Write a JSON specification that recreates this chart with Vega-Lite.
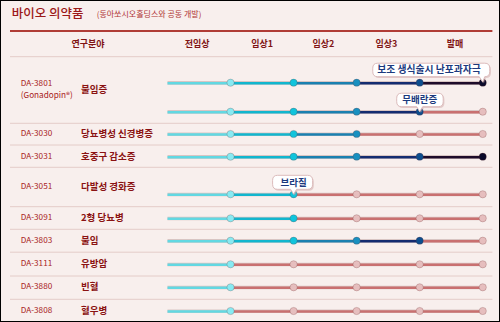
{
  "$schema": "https://vega.github.io/schema/vega-lite/v6.json",
  "width": 500,
  "height": 322,
  "autosize": {"type": "fit", "contains": "padding"},
  "padding": 0,
  "background": "#f8efed",
  "config": {"view": {"stroke": "#000000", "strokeWidth": 2}},
  "datasets": {
    "seps": [{"y": 56.7}, {"y": 123.3}, {"y": 145}, {"y": 167.3}, {"y": 206.7}, {"y": 229.3}, {"y": 252.2}, {"y": 276}, {"y": 299.3}],
    "steps": [
      {"line": "DA-3801 a", "y": 82.7, "from": 0, "stage": 1, "status": "s1"},
      {"line": "DA-3801 a", "y": 82.7, "from": 1, "stage": 2, "status": "s2"},
      {"line": "DA-3801 a", "y": 82.7, "from": 2, "stage": 3, "status": "s3"},
      {"line": "DA-3801 a", "y": 82.7, "from": 3, "stage": 4, "status": "s4"},
      {"line": "DA-3801 a", "y": 82.7, "from": 4, "stage": 5, "status": "s5"},
      {"line": "DA-3801 b", "y": 111.7, "from": 0, "stage": 1, "status": "s1"},
      {"line": "DA-3801 b", "y": 111.7, "from": 1, "stage": 2, "status": "s2"},
      {"line": "DA-3801 b", "y": 111.7, "from": 2, "stage": 3, "status": "s3"},
      {"line": "DA-3801 b", "y": 111.7, "from": 3, "stage": 4, "status": "s4"},
      {"line": "DA-3801 b", "y": 111.7, "from": 4, "stage": 5, "status": "todo"},
      {"line": "DA-3030", "y": 134, "from": 0, "stage": 1, "status": "s1"},
      {"line": "DA-3030", "y": 134, "from": 1, "stage": 2, "status": "s2"},
      {"line": "DA-3030", "y": 134, "from": 2, "stage": 3, "status": "s3"},
      {"line": "DA-3030", "y": 134, "from": 3, "stage": 4, "status": "todo"},
      {"line": "DA-3030", "y": 134, "from": 4, "stage": 5, "status": "todo"},
      {"line": "DA-3031", "y": 156.7, "from": 0, "stage": 1, "status": "s1"},
      {"line": "DA-3031", "y": 156.7, "from": 1, "stage": 2, "status": "s2"},
      {"line": "DA-3031", "y": 156.7, "from": 2, "stage": 3, "status": "s3"},
      {"line": "DA-3031", "y": 156.7, "from": 3, "stage": 4, "status": "s4"},
      {"line": "DA-3031", "y": 156.7, "from": 4, "stage": 5, "status": "s5"},
      {"line": "DA-3051", "y": 194.3, "from": 0, "stage": 1, "status": "s1"},
      {"line": "DA-3051", "y": 194.3, "from": 1, "stage": 2, "status": "s2"},
      {"line": "DA-3051", "y": 194.3, "from": 2, "stage": 3, "status": "todo"},
      {"line": "DA-3051", "y": 194.3, "from": 3, "stage": 4, "status": "todo"},
      {"line": "DA-3051", "y": 194.3, "from": 4, "stage": 5, "status": "todo"},
      {"line": "DA-3091", "y": 218.3, "from": 0, "stage": 1, "status": "s1"},
      {"line": "DA-3091", "y": 218.3, "from": 1, "stage": 2, "status": "s2"},
      {"line": "DA-3091", "y": 218.3, "from": 2, "stage": 3, "status": "todo"},
      {"line": "DA-3091", "y": 218.3, "from": 3, "stage": 4, "status": "todo"},
      {"line": "DA-3091", "y": 218.3, "from": 4, "stage": 5, "status": "todo"},
      {"line": "DA-3803", "y": 240.7, "from": 0, "stage": 1, "status": "s1"},
      {"line": "DA-3803", "y": 240.7, "from": 1, "stage": 2, "status": "s2"},
      {"line": "DA-3803", "y": 240.7, "from": 2, "stage": 3, "status": "s3"},
      {"line": "DA-3803", "y": 240.7, "from": 3, "stage": 4, "status": "s4"},
      {"line": "DA-3803", "y": 240.7, "from": 4, "stage": 5, "status": "todo"},
      {"line": "DA-3111", "y": 264.3, "from": 0, "stage": 1, "status": "s1"},
      {"line": "DA-3111", "y": 264.3, "from": 1, "stage": 2, "status": "todo"},
      {"line": "DA-3111", "y": 264.3, "from": 2, "stage": 3, "status": "todo"},
      {"line": "DA-3111", "y": 264.3, "from": 3, "stage": 4, "status": "todo"},
      {"line": "DA-3111", "y": 264.3, "from": 4, "stage": 5, "status": "todo"},
      {"line": "DA-3880", "y": 287.3, "from": 0, "stage": 1, "status": "s1"},
      {"line": "DA-3880", "y": 287.3, "from": 1, "stage": 2, "status": "todo"},
      {"line": "DA-3880", "y": 287.3, "from": 2, "stage": 3, "status": "todo"},
      {"line": "DA-3880", "y": 287.3, "from": 3, "stage": 4, "status": "todo"},
      {"line": "DA-3880", "y": 287.3, "from": 4, "stage": 5, "status": "todo"},
      {"line": "DA-3808", "y": 311, "from": 0, "stage": 1, "status": "s1"},
      {"line": "DA-3808", "y": 311, "from": 1, "stage": 2, "status": "todo"},
      {"line": "DA-3808", "y": 311, "from": 2, "stage": 3, "status": "todo"},
      {"line": "DA-3808", "y": 311, "from": 3, "stage": 4, "status": "todo"},
      {"line": "DA-3808", "y": 311, "from": 4, "stage": 5, "status": "todo"}
    ],
    "bubbles": [
      {"label": "보조 생식술시 난포과자극", "stage": 5, "y": 82.7},
      {"label": "무배란증", "stage": 4, "y": 111.7},
      {"label": "브라질", "stage": 2, "y": 194.3}
    ],
    "texts": [
      {"kind": "title", "text": "바이오 의약품", "x": -2.471, "y": 13.5},
      {"kind": "subtitle", "text": "(동아쏘시오홀딩스와 공동 개발)", "x": -1.123, "y": 14.5},
      {"kind": "head", "text": "연구분야", "x": -1.261, "y": 44},
      {"kind": "head", "text": "전임상", "x": 0.47, "y": 44},
      {"kind": "head", "text": "임상1", "x": 1.5, "y": 44},
      {"kind": "head", "text": "임상2", "x": 2.474, "y": 44},
      {"kind": "head", "text": "임상3", "x": 3.473, "y": 44},
      {"kind": "head", "text": "발매", "x": 4.56, "y": 44},
      {"kind": "code", "text": "DA-3801", "x": -2.328, "y": 84},
      {"kind": "code", "text": "(Gonadopin®)", "x": -2.328, "y": 96},
      {"kind": "code", "text": "DA-3030", "x": -2.328, "y": 134},
      {"kind": "code", "text": "DA-3031", "x": -2.328, "y": 156.7},
      {"kind": "code", "text": "DA-3051", "x": -2.328, "y": 186.7},
      {"kind": "code", "text": "DA-3091", "x": -2.328, "y": 218.3},
      {"kind": "code", "text": "DA-3803", "x": -2.328, "y": 240.7},
      {"kind": "code", "text": "DA-3111", "x": -2.328, "y": 264.3},
      {"kind": "code", "text": "DA-3880", "x": -2.328, "y": 287.3},
      {"kind": "code", "text": "DA-3808", "x": -2.328, "y": 311},
      {"kind": "name", "text": "불임증", "x": -1.372, "y": 90},
      {"kind": "name", "text": "당뇨병성 신경병증", "x": -1.372, "y": 134},
      {"kind": "name", "text": "호중구 감소증", "x": -1.372, "y": 156.7},
      {"kind": "name", "text": "다발성 경화증", "x": -1.372, "y": 186.7},
      {"kind": "name", "text": "2형 당뇨병", "x": -1.372, "y": 218.3},
      {"kind": "name", "text": "불임", "x": -1.372, "y": 240.7},
      {"kind": "name", "text": "유방암", "x": -1.372, "y": 264.3},
      {"kind": "name", "text": "빈혈", "x": -1.372, "y": 287.3},
      {"kind": "name", "text": "혈우병", "x": -1.372, "y": 311}
    ]
  },
  "layer": [
    {
      "data": {"name": "seps"},
      "mark": {"type": "rule", "stroke": "#e4ccc8", "strokeWidth": 1},
      "encoding": {
        "x": {"datum": -2.498, "type": "quantitative", "scale": {"domain": [-2.6566, 5.2736], "nice": false, "zero": false}, "axis": null},
        "x2": {"datum": 5.153},
        "y": {"field": "y", "type": "quantitative", "scale": {"domain": [0, 322], "nice": false, "zero": false, "reverse": true}, "axis": null}
      }
    },
    {
      "data": {"values": [{"y": 31}]},
      "mark": {"type": "rule", "stroke": "#b03c36", "strokeWidth": 2},
      "encoding": {
        "x": {"datum": -2.498, "type": "quantitative", "scale": {"domain": [-2.6566, 5.2736], "nice": false, "zero": false}, "axis": null},
        "x2": {"datum": 5.153},
        "y": {"field": "y", "type": "quantitative", "scale": {"domain": [0, 322], "nice": false, "zero": false, "reverse": true}, "axis": null}
      }
    },
    {
      "data": {"name": "steps"},
      "mark": {"type": "rule", "stroke": "#5a2020", "strokeOpacity": 0.2, "strokeWidth": 3.6, "yOffset": 0.2},
      "encoding": {
        "x": {"field": "from", "type": "quantitative", "scale": {"domain": [-2.6566, 5.2736], "nice": false, "zero": false}, "axis": null},
        "x2": {"field": "stage"},
        "y": {"field": "y", "type": "quantitative", "scale": {"domain": [0, 322], "nice": false, "zero": false, "reverse": true}, "axis": null}
      }
    },
    {
      "data": {"name": "steps"},
      "mark": {"type": "rule", "strokeWidth": 2.5, "yOffset": 0.5},
      "encoding": {
        "x": {"field": "from", "type": "quantitative", "scale": {"domain": [-2.6566, 5.2736], "nice": false, "zero": false}, "axis": null},
        "x2": {"field": "stage"},
        "y": {"field": "y", "type": "quantitative", "scale": {"domain": [0, 322], "nice": false, "zero": false, "reverse": true}, "axis": null},
        "stroke": {"field": "status", "type": "nominal", "scale": {"domain": ["s1", "s2", "s3", "s4", "s5", "todo"], "range": ["#62d8e2", "#12b6ce", "#1a80b0", "#142c70", "#1e0c2a", "#c97070"]}, "legend": null}
      }
    },
    {
      "data": {"name": "steps"},
      "mark": {"type": "point", "filled": true, "size": 52, "stroke": "#6a2a2a", "strokeOpacity": 0.3, "strokeWidth": 0.8, "opacity": 1},
      "encoding": {
        "x": {"field": "stage", "type": "quantitative", "scale": {"domain": [-2.6566, 5.2736], "nice": false, "zero": false}, "axis": null},
        "y": {"field": "y", "type": "quantitative", "scale": {"domain": [0, 322], "nice": false, "zero": false, "reverse": true}, "axis": null},
        "fill": {"field": "status", "type": "nominal", "scale": {"domain": ["s1", "s2", "s3", "s4", "s5", "todo"], "range": ["#88eaf2", "#10c4dc", "#1890c0", "#0c4e8e", "#0a0a2a", "#e6bebe"]}, "legend": null}
      }
    },
    {
      "data": {"name": "bubbles"},
      "mark": {"type": "point", "filled": true, "size": 40000, "fill": "#c9a0a0", "opacity": 0.45, "strokeWidth": 0, "xOffset": 1.2, "yOffset": 1.4},
      "encoding": {
        "x": {"field": "stage", "type": "quantitative", "scale": {"domain": [-2.6566, 5.2736], "nice": false, "zero": false}, "axis": null},
        "y": {"field": "y", "type": "quantitative", "scale": {"domain": [0, 322], "nice": false, "zero": false, "reverse": true}, "axis": null},
        "shape": {"field": "label", "type": "nominal", "legend": null, "scale": {"domain": ["보조 생식술시 난포과자극", "무배란증", "브라질"], "range": [
          "M-1.05,-0.195H0.02Q0.07,-0.195 0.07,-0.145V-0.11Q0.07,-0.06 0.02,-0.06L0,-0.005L-0.035,-0.06H-1.05Q-1.1,-0.06 -1.1,-0.11V-0.145Q-1.1,-0.195 -1.05,-0.195Z",
          "M-0.18,-0.185H0.185Q0.235,-0.185 0.235,-0.135V-0.1Q0.235,-0.05 0.185,-0.05H0.03L0,0L-0.03,-0.05H-0.18Q-0.23,-0.05 -0.23,-0.1V-0.135Q-0.23,-0.185 -0.18,-0.185Z",
          "M-0.16,-0.19H0.14Q0.19,-0.19 0.19,-0.14V-0.1Q0.19,-0.05 0.14,-0.05H0.03L0,0L-0.03,-0.05H-0.16Q-0.21,-0.05 -0.21,-0.1V-0.14Q-0.21,-0.19 -0.16,-0.19Z"
        ]}}
      }
    },
    {
      "data": {"name": "bubbles"},
      "mark": {"type": "point", "filled": true, "size": 40000, "fill": "#ffffff", "opacity": 1, "stroke": "#dcbcbc", "strokeWidth": 1},
      "encoding": {
        "x": {"field": "stage", "type": "quantitative", "scale": {"domain": [-2.6566, 5.2736], "nice": false, "zero": false}, "axis": null},
        "y": {"field": "y", "type": "quantitative", "scale": {"domain": [0, 322], "nice": false, "zero": false, "reverse": true}, "axis": null},
        "shape": {"field": "label", "type": "nominal", "legend": null, "scale": {"domain": ["보조 생식술시 난포과자극", "무배란증", "브라질"], "range": [
          "M-1.05,-0.195H0.02Q0.07,-0.195 0.07,-0.145V-0.11Q0.07,-0.06 0.02,-0.06L0,-0.005L-0.035,-0.06H-1.05Q-1.1,-0.06 -1.1,-0.11V-0.145Q-1.1,-0.195 -1.05,-0.195Z",
          "M-0.18,-0.185H0.185Q0.235,-0.185 0.235,-0.135V-0.1Q0.235,-0.05 0.185,-0.05H0.03L0,0L-0.03,-0.05H-0.18Q-0.23,-0.05 -0.23,-0.1V-0.135Q-0.23,-0.185 -0.18,-0.185Z",
          "M-0.16,-0.19H0.14Q0.19,-0.19 0.19,-0.14V-0.1Q0.19,-0.05 0.14,-0.05H0.03L0,0L-0.03,-0.05H-0.16Q-0.21,-0.05 -0.21,-0.1V-0.14Q-0.21,-0.19 -0.16,-0.19Z"
        ]}}
      }
    },
    {
      "data": {"name": "bubbles"},
      "transform": [{"filter": "datum.label == '보조 생식술시 난포과자극'"}],
      "mark": {"type": "text", "align": "right", "baseline": "middle", "dx": -2, "dy": -12.5, "font": "Noto Sans CJK KR", "fontSize": 9.8, "fontWeight": "bold", "fill": "#1c3a7e"},
      "encoding": {
        "x": {"field": "stage", "type": "quantitative", "scale": {"domain": [-2.6566, 5.2736], "nice": false, "zero": false}, "axis": null},
        "y": {"field": "y", "type": "quantitative", "scale": {"domain": [0, 322], "nice": false, "zero": false, "reverse": true}, "axis": null},
        "text": {"field": "label"}
      }
    },
    {
      "data": {"name": "bubbles"},
      "transform": [{"filter": "datum.label != '보조 생식술시 난포과자극'"}],
      "mark": {"type": "text", "align": "center", "baseline": "middle", "dx": 0, "dy": -11.8, "font": "Noto Sans CJK KR", "fontSize": 9.5, "fontWeight": "bold", "fill": "#1c3a7e"},
      "encoding": {
        "x": {"field": "stage", "type": "quantitative", "scale": {"domain": [-2.6566, 5.2736], "nice": false, "zero": false}, "axis": null},
        "y": {"field": "y", "type": "quantitative", "scale": {"domain": [0, 322], "nice": false, "zero": false, "reverse": true}, "axis": null},
        "text": {"field": "label"}
      }
    },
    {
      "data": {"name": "texts"},
      "transform": [{"filter": "datum.kind == 'title'"}],
      "mark": {"type": "text", "align": "left", "baseline": "middle", "font": "Noto Sans CJK KR", "fontSize": 12.5, "fontWeight": 500, "fill": "#9c1818"},
      "encoding": {
        "x": {"field": "x", "type": "quantitative", "scale": {"domain": [-2.6566, 5.2736], "nice": false, "zero": false}, "axis": null},
        "y": {"field": "y", "type": "quantitative", "scale": {"domain": [0, 322], "nice": false, "zero": false, "reverse": true}, "axis": null},
        "text": {"field": "text"}
      }
    },
    {
      "data": {"name": "texts"},
      "transform": [{"filter": "datum.kind == 'subtitle'"}],
      "mark": {"type": "text", "align": "left", "baseline": "middle", "font": "Noto Sans CJK KR", "fontSize": 8, "fontWeight": "normal", "fill": "#b03434"},
      "encoding": {
        "x": {"field": "x", "type": "quantitative", "scale": {"domain": [-2.6566, 5.2736], "nice": false, "zero": false}, "axis": null},
        "y": {"field": "y", "type": "quantitative", "scale": {"domain": [0, 322], "nice": false, "zero": false, "reverse": true}, "axis": null},
        "text": {"field": "text"}
      }
    },
    {
      "data": {"name": "texts"},
      "transform": [{"filter": "datum.kind == 'head'"}],
      "mark": {"type": "text", "align": "center", "baseline": "middle", "font": "Noto Sans CJK KR", "fontSize": 9, "fontWeight": "bold", "fill": "#801414"},
      "encoding": {
        "x": {"field": "x", "type": "quantitative", "scale": {"domain": [-2.6566, 5.2736], "nice": false, "zero": false}, "axis": null},
        "y": {"field": "y", "type": "quantitative", "scale": {"domain": [0, 322], "nice": false, "zero": false, "reverse": true}, "axis": null},
        "text": {"field": "text"}
      }
    },
    {
      "data": {"name": "texts"},
      "transform": [{"filter": "datum.kind == 'code'"}],
      "mark": {"type": "text", "align": "left", "baseline": "middle", "font": "Noto Sans CJK KR", "fontSize": 8.2, "fontWeight": "normal", "fill": "#a82222"},
      "encoding": {
        "x": {"field": "x", "type": "quantitative", "scale": {"domain": [-2.6566, 5.2736], "nice": false, "zero": false}, "axis": null},
        "y": {"field": "y", "type": "quantitative", "scale": {"domain": [0, 322], "nice": false, "zero": false, "reverse": true}, "axis": null},
        "text": {"field": "text"}
      }
    },
    {
      "data": {"name": "texts"},
      "transform": [{"filter": "datum.kind == 'name'"}],
      "mark": {"type": "text", "align": "left", "baseline": "middle", "font": "Noto Sans CJK KR", "fontSize": 9.5, "fontWeight": "bold", "fill": "#8a1212"},
      "encoding": {
        "x": {"field": "x", "type": "quantitative", "scale": {"domain": [-2.6566, 5.2736], "nice": false, "zero": false}, "axis": null},
        "y": {"field": "y", "type": "quantitative", "scale": {"domain": [0, 322], "nice": false, "zero": false, "reverse": true}, "axis": null},
        "text": {"field": "text"}
      }
    }
  ]
}
